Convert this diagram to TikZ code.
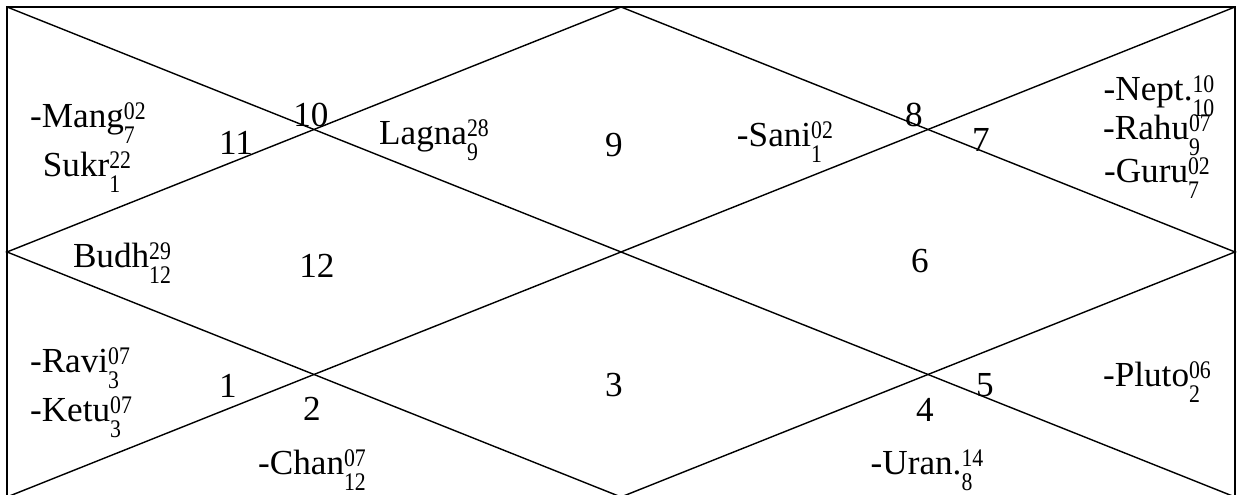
\documentclass[tikz,border=0pt]{standalone}
\usepackage{graphicx}
\usepackage{fontspec}
\setmainfont{Liberation Serif}
\newcommand{\ankfont}{\fontsize{7.2}{8}\selectfont}
\newcommand{\graha}[3]{#1{\ankfont\ooalign{%
  \raisebox{2.4pt}{\scalebox{0.86}[1]{#2}}\cr
  \raisebox{-4.3pt}{\scalebox{0.86}[1]{#3}}\cr}}}
\tikzset{%
    every node/.style={inner sep=0pt, anchor=base, font=\fontsize{10}{12}\selectfont},
    bhava/.style={},
    graha/.style={}
}

\begin{document}
\begin{tikzpicture}[x=0.01cm, y=-0.01cm]
  \useasboundingbox (0,0) rectangle (1244,495);
  \coordinate (tl) at (7,7);
  \coordinate (tr) at (1235,7);
  \coordinate (br) at (1235,497);
  \coordinate (bl) at (7,497);
  \coordinate (tm) at (621,7);
  \coordinate (rm) at (1235,252);
  \coordinate (bm) at (621,497);
  \coordinate (lm) at (7,252);

  \draw (tl) -- (tr) -- (br) -- (bl) -- cycle;
  \draw (tl) -- (br); \draw (tr) -- (bl);
  \draw (tm) -- (rm) -- (bm) -- (lm) -- cycle;

  % house numbers
  \node[bhava] (h1) at (228,398) {1};
  \node[bhava] (h2) at (312,421) {2};
  \node[bhava] (h3) at (614,397) {3};
  \node[bhava] (h4) at (925,422) {4};
  \node[bhava] (h5) at (985,397) {5};
  \node[bhava] (h6) at (920,273) {6};
  \node[bhava] (h7) at (981,152) {7};
  \node[bhava] (h8) at (914,127) {8};
  \node[bhava] (h9) at (614,157) {9};
  \node[bhava] (h10) at (311,127) {10};
  \node[bhava] (h11) at (236,155) {11};
  \node[bhava] (h12) at (317,278) {12};

  % planets
  \node[graha] (lagna) at (434,145) {\graha{Lagna}{28}{9}};
  \node[graha] (sani) at (785,147) {\graha{-Sani}{02}{1}};
  \node[graha] (nept) at (1159,101) {\graha{-Nept.}{10}{10}};
  \node[graha] (rahu) at (1157,140) {\graha{-Rahu}{07}{9}};
  \node[graha] (guru) at (1157,183) {\graha{-Guru}{02}{7}};
  \node[graha] (mang) at (88,128) {\graha{-Mang}{02}{7}};
  \node[graha] (sukr) at (87,177) {\graha{Sukr}{22}{1}};
  \node[graha] (budh) at (122,268) {\graha{Budh}{29}{12}};
  \node[graha] (ravi) at (80,373) {\graha{-Ravi}{07}{3}};
  \node[graha] (ketu) at (81,422) {\graha{-Ketu}{07}{3}};
  \node[graha] (chan) at (312,475) {\graha{-Chan}{07}{12}};
  \node[graha] (pluto) at (1157,387) {\graha{-Pluto}{06}{2}};
  \node[graha] (uran) at (927,475) {\graha{-Uran.}{14}{8}};
\end{tikzpicture}
\end{document}
